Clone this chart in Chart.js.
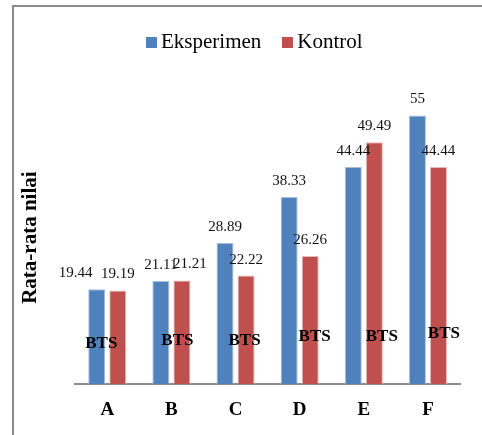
<!DOCTYPE html>
<html>
<head>
<meta charset="utf-8">
<script src="https://cdn.jsdelivr.net/npm/chart.js@4.4.0/dist/chart.umd.min.js"></script>
<style>
  html, body { margin: 0; padding: 0; background: #fff; }
  #wrap { position: relative; width: 482px; height: 435px; }
  #legend {
    position: absolute; left: 146px; top: 29px;
    display: flex; align-items: center;
    font-family: 'Liberation Serif', 'Times New Roman', serif;
    font-size: 21px; line-height: 24px; color: #000;
  }
  .lg-item { display: flex; align-items: center; margin-right: 21px; white-space: nowrap; }
  .lg-box { width: 11px; height: 11px; margin-right: 4px; margin-top: 2px; }
</style>
</head>
<body>
<div id="wrap">
  <canvas id="chart" width="482" height="435"></canvas>
  <div id="legend"></div>
</div>
<script>
// Data
const categories = ['A', 'B', 'C', 'D', 'E', 'F'];
const seriesNames = ['Eksperimen', 'Kontrol'];
const eksperimen = [19.44, 21.11, 28.89, 38.33, 44.44, 55];
const kontrol = [19.19, 21.21, 22.22, 26.26, 49.49, 44.44];
const noteText = 'BTS';
const yTitle = 'Rata-rata nilai';

const colors = ['#4F81BD', '#C0504D'];
const edgeColors = ['#A7BFDE', '#E6B9B8'];
const serif = "'Liberation Serif', 'Times New Roman', serif";

// Legend (html)
const legendEl = document.getElementById('legend');
seriesNames.forEach((name, i) => {
  const item = document.createElement('div');
  item.className = 'lg-item';
  const box = document.createElement('span');
  box.className = 'lg-box';
  box.style.background = colors[i];
  const txt = document.createElement('span');
  txt.textContent = name;
  item.appendChild(box);
  item.appendChild(txt);
  legendEl.appendChild(item);
});

// Outer frame (top and left edge only, like the cropped original)
const framePlugin = {
  id: 'frame',
  beforeDraw(chart) {
    const ctx = chart.ctx;
    ctx.save();
    ctx.strokeStyle = '#8a8a8a';
    ctx.lineWidth = 2;
    ctx.beginPath();
    ctx.moveTo(13, chart.height);
    ctx.lineTo(13, 6);
    ctx.lineTo(chart.width, 6);
    ctx.stroke();
    ctx.restore();
  }
};

// Value labels above bars + "BTS" notes
const labelPlugin = {
  id: 'barLabels',
  afterDatasetsDraw(chart, args, opts) {
    const ctx = chart.ctx;
    const nudge = opts.nudge || {};
    ctx.save();
    ctx.textAlign = 'center';
    ctx.textBaseline = 'middle';
    ctx.fillStyle = '#111';
    ctx.font = '15px ' + serif;
    chart.data.datasets.forEach((ds, di) => {
      const meta = chart.getDatasetMeta(di);
      meta.data.forEach((bar, i) => {
        const dx = nudge[di + ':' + i] || 0;
        ctx.fillText(String(ds.data[i]), bar.x + dx, bar.y - 16);
      });
    });

    // notes
    const xs = chart.scales.x;
    const bottom = chart.chartArea.bottom;
    ctx.fillStyle = '#000';
    ctx.font = 'bold 17px ' + serif;
    categories.forEach((c, i) => {
      const p = opts.notePos[i];
      ctx.fillText(noteText, xs.getPixelForValue(i) + p[0], bottom - p[1]);
    });
    ctx.restore();
  }
};

const datasets = [eksperimen, kontrol].map((vals, i) => ({
  label: seriesNames[i],
  data: vals,
  backgroundColor: colors[i],
  borderColor: edgeColors[i],
  borderWidth: 1,
  categoryPercentage: 0.656,
  barPercentage: 0.81
}));

new Chart(document.getElementById('chart'), {
  type: 'bar',
  data: { labels: categories, datasets: datasets },
  options: {
    responsive: false,
    devicePixelRatio: 1,
    animation: false,
    layout: { padding: { left: 14, right: 22, top: 91, bottom: 0 } },
    plugins: {
      legend: { display: false },
      tooltip: { enabled: false },
      barLabels: {
        nudge: { '0:0': -21, '1:1': 8 },
        notePos: [[-6, 41], [6, 44], [9, 44], [15, 48], [18, 48], [16, 51]]
      }
    },
    scales: {
      x: {
        grid: { display: false, drawTicks: false },
        border: { display: true, color: '#8c8c8c', width: 2 },
        ticks: {
          color: '#000',
          padding: 14,
          font: { family: serif, size: 19, weight: 'bold' }
        }
      },
      y: {
        min: 0,
        max: 60,
        grid: { display: false, drawTicks: false },
        border: { display: false },
        ticks: { display: false },
        title: {
          display: true,
          text: yTitle,
          color: '#000',
          padding: { top: 4, bottom: 32 },
          font: { family: serif, size: 21, weight: 'bold' }
        }
      }
    }
  },
  plugins: [framePlugin, labelPlugin]
});
</script>
</body>
</html>
